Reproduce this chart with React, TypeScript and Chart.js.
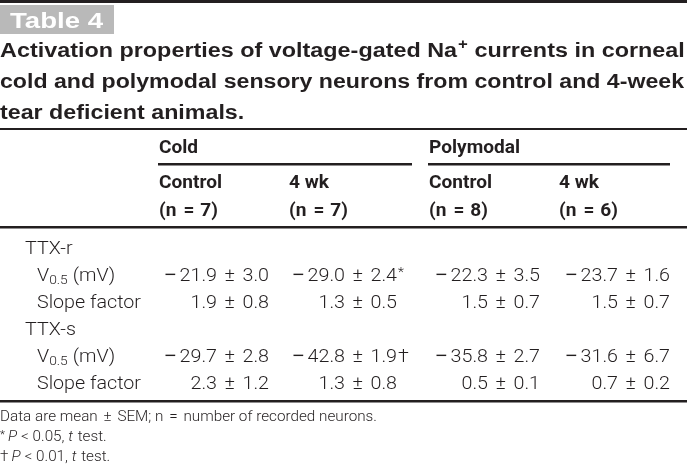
import React, { useEffect, useRef } from "react";
import { Chart, registerables } from "chart.js";

Chart.register(...registerables);

// ---------- data ----------
const tableNumber = "Table 4";
const titleLines = [
  ["Activation properties of voltage-gated Na", "+", " currents in corneal"],
  ["cold and polymodal sensory neurons from control and 4-week", "", ""],
  ["tear deficient animals.", "", ""],
];
const groups = ["Cold", "Polymodal"];
const conditions = ["Control", "4 wk", "Control", "4 wk"];
const nCounts = [7, 7, 8, 6];
const sections = ["TTX-r", "TTX-s"];
const measures = ["V0.5 (mV)", "Slope factor"];

const ttxrV05Mean = [-21.9, -29.0, -22.3, -23.7];
const ttxrV05Sem = [3.0, 2.4, 3.5, 1.6];
const ttxrV05Mark = ["", "*", "", ""];
const ttxrSlopeMean = [1.9, 1.3, 1.5, 1.5];
const ttxrSlopeSem = [0.8, 0.5, 0.7, 0.7];
const ttxsV05Mean = [-29.7, -42.8, -35.8, -31.6];
const ttxsV05Sem = [2.8, 1.9, 2.7, 6.7];
const ttxsV05Mark = ["", "\u2020", "", ""];
const ttxsSlopeMean = [2.3, 1.3, 0.5, 0.7];
const ttxsSlopeSem = [1.2, 0.8, 0.1, 0.2];

const footnote1 = ["Data are mean", "\u00b1", "SEM; n", "=", "number of recorded neurons."];
const footnote2 = ["*", "P", "< 0.05, ", "t", " test."];
const footnote3 = ["\u2020", "P", "< 0.01, ", "t", " test."];

// ---------- layout ----------
const W = 687;
const H = 469;
const INK = "#231f20";
const COL_LEFT = [158, 288, 428, 558];
const COL_RIGHT = [269, 397, 540, 670];
const GROUP_SPAN = [
  [158, 412],
  [428, 670],
];
const ROW_BASE = [254, 281, 308, 335, 362, 389];
const SANS = "'Liberation Sans', Arial, Helvetica, sans-serif";
const BODY_FONT = "300 18.5px Roboto";
const MINUS_FONT = "normal 20px " + SANS;
const SUB_FONT = "300 13px Roboto";
const HEAD_FONT = "700 18.5px Roboto";
const FOOT_FONT = "300 14.5px Roboto";
const FOOT_IT = "italic 300 14.5px Roboto";

const tablePlugin = {
  id: "tableDraw",
  afterDraw(chart: any) {
    const { ctx } = chart;
    const xs = chart.scales.x;
    const ys = chart.scales.y;
    const px = (v: number) => xs.getPixelForValue(v);
    const py = (v: number) => ys.getPixelForValue(v);

    const measure = (s: string, font: string, sx = 1) => {
      ctx.save();
      ctx.font = font;
      const w = ctx.measureText(s).width * sx;
      ctx.restore();
      return w;
    };
    const text = (
      s: string,
      xv: number,
      yv: number,
      font: string,
      color = INK,
      align: CanvasTextAlign = "left",
      sx = 1
    ) => {
      ctx.save();
      ctx.font = font;
      ctx.fillStyle = color;
      ctx.textBaseline = "alphabetic";
      ctx.textAlign = align;
      ctx.translate(px(xv), py(yv));
      ctx.scale(sx, 1);
      ctx.fillText(s, 0, 0);
      ctx.restore();
      return measure(s, font, sx);
    };
    const rule = (x0: number, x1: number, yv: number, t: number) => {
      ctx.save();
      ctx.fillStyle = INK;
      ctx.fillRect(px(x0), py(yv), px(x1) - px(x0), t);
      ctx.restore();
    };

    // horizontal scale factors so the substitute fonts cover the same widths
    const bodySx = 104 / measure("Slope factor", BODY_FONT);
    const headSx = 63 / measure("Control", HEAD_FONT);

    // top rule and table tag
    rule(0, W, 0, 3);
    ctx.save();
    ctx.fillStyle = "#b9b9b9";
    ctx.fillRect(px(0), py(5), px(114) - px(0), py(34) - py(5));
    ctx.restore();
    const tagFont = "bold 22px " + SANS;
    text(tableNumber, 10, 28, tagFont, "#ffffff", "left", 93 / measure(tableNumber, tagFont));

    // title
    const tFont = "bold 19.5px " + SANS;
    const supFont = "bold 14px " + SANS;
    const l1 = titleLines[0];
    const w1 = measure(l1[0], tFont) + 1 + measure(l1[1], supFont) + measure(l1[2], tFont);
    const w2 = measure(titleLines[1][0], tFont);
    const sx1 = 685 / w1;
    const sx2 = 684 / w2;
    const tSxs = [sx1, sx2, (sx1 + sx2) / 2];
    const tBase = [57, 88, 119];
    titleLines.forEach((parts, i) => {
      const tSx = tSxs[i];
      let xx = 0;
      xx += text(parts[0], xx, tBase[i], tFont, INK, "left", tSx);
      if (parts[1]) {
        xx += 1;
        xx += text(parts[1], xx, tBase[i] - 8, supFont, INK, "left", tSx);
      }
      if (parts[2]) text(parts[2], xx, tBase[i], tFont, INK, "left", tSx);
    });

    rule(0, W, 128, 2);

    // group headers
    groups.forEach((g, i) => {
      text(g, GROUP_SPAN[i][0] + 1, 153, HEAD_FONT, INK, "left", headSx);
      rule(GROUP_SPAN[i][0], GROUP_SPAN[i][1], 163, 2.5);
    });
    conditions.forEach((c, i) => {
      const x0 = COL_LEFT[i] + 1;
      text(c, x0, 188, HEAD_FONT, INK, "left", headSx);
      let xx = x0;
      xx += text("(n", xx, 216, HEAD_FONT, INK, "left", headSx);
      xx += 7;
      xx += text("=", xx, 216, HEAD_FONT, INK, "left", headSx);
      xx += 6;
      text(nCounts[i] + ")", xx, 216, HEAD_FONT, INK, "left", headSx);
    });
    rule(0, W, 226, 2.5);

    // numeric cell: "−mean ± sem", right aligned
    const cell = (mean: number, sem: number, xr: number, yb: number) => {
      let xx = xr;
      xx -= text(sem.toFixed(1), xx, yb, BODY_FONT, INK, "right", bodySx);
      xx -= 7.5;
      xx -= text("\u00b1", xx, yb, BODY_FONT, INK, "right", bodySx);
      xx -= 7.5;
      xx -= text(Math.abs(mean).toFixed(1), xx, yb, BODY_FONT, INK, "right", bodySx);
      if (mean < 0) {
        xx -= 3.5;
        text("\u2212", xx, yb, MINUS_FONT, INK, "right", 1);
      }
    };

    // body
    const rows = [
      { label: sections[0], indent: 25 },
      { label: measures[0], indent: 37, mean: ttxrV05Mean, sem: ttxrV05Sem, mark: ttxrV05Mark },
      { label: measures[1], indent: 37, mean: ttxrSlopeMean, sem: ttxrSlopeSem },
      { label: sections[1], indent: 25 },
      { label: measures[0], indent: 37, mean: ttxsV05Mean, sem: ttxsV05Sem, mark: ttxsV05Mark },
      { label: measures[1], indent: 37, mean: ttxsSlopeMean, sem: ttxsSlopeSem },
    ];
    rows.forEach((r: any, ri) => {
      const yb = ROW_BASE[ri];
      if (r.label.startsWith("V0.5")) {
        let xx = r.indent;
        xx += text("V", xx, yb, BODY_FONT, INK, "left", bodySx);
        xx += text("0.5", xx, yb + 3, SUB_FONT, INK, "left", bodySx);
        xx += 5;
        text("(mV)", xx, yb, BODY_FONT, INK, "left", bodySx);
      } else {
        text(r.label, r.indent, yb, BODY_FONT, INK, "left", bodySx);
      }
      if (r.mean) {
        r.mean.forEach((m: number, ci: number) => {
          cell(m, r.sem[ci], COL_RIGHT[ci], yb);
          if (r.mark && r.mark[ci]) {
            const mk = r.mark[ci];
            if (mk === "*") text(mk, COL_RIGHT[ci] + 1, yb - 5, SUB_FONT, INK, "left", bodySx);
            else text(mk, COL_RIGHT[ci] + 1, yb, BODY_FONT, INK, "left", bodySx);
          }
        });
      }
    });

    rule(0, W, 400, 2.5);

    // footnotes
    const gap = 5.5;
    let raw = 0;
    footnote1.forEach((p, i) => {
      raw += measure(p, FOOT_FONT) + (i < footnote1.length - 1 ? gap : 0);
    });
    const fSx = 377 / raw;
    {
      let xx = 0;
      footnote1.forEach((p, i) => {
        xx += text(p, xx, 421, FOOT_FONT, INK, "left", fSx);
        if (i < footnote1.length - 1) xx += gap * fSx;
      });
    }
    [footnote2, footnote3].forEach((parts, i) => {
      const yb = i === 0 ? 441 : 461;
      let xx = 0;
      if (parts[0] === "*") xx += text(parts[0], xx, yb - 3, "300 11px Roboto", INK, "left", fSx) + 3;
      else xx += text(parts[0], xx, yb, FOOT_FONT, INK, "left", fSx) + 3;
      xx += text(parts[1], xx, yb, FOOT_IT, INK, "left", fSx) + 4;
      xx += text(parts[2], xx, yb, FOOT_FONT, INK, "left", fSx);
      xx += text(parts[3], xx, yb, FOOT_IT, INK, "left", fSx) + 1;
      text(parts[4], xx, yb, FOOT_FONT, INK, "left", fSx);
    });
  },
};

export default function App() {
  const ref = useRef<HTMLCanvasElement | null>(null);
  useEffect(() => {
    document.body.style.margin = "0";
    const canvas = ref.current;
    if (!canvas) return;
    const chart = new Chart(canvas, {
      type: "scatter",
      data: { datasets: [{ data: [], pointRadius: 0 }] },
      options: {
        responsive: false,
        animation: false,
        devicePixelRatio: 1,
        layout: { padding: 0 },
        plugins: { legend: { display: false }, tooltip: { enabled: false } },
        scales: {
          x: { type: "linear", min: 0, max: W, display: false },
          y: { type: "linear", min: 0, max: H, reverse: true, display: false },
        },
      },
      plugins: [tablePlugin],
    });
    return () => chart.destroy();
  }, []);
  return (
    <div style={{ width: W, height: H, background: "#fff" }}>
      <canvas ref={ref} width={W} height={H} style={{ display: "block" }} />
    </div>
  );
}
